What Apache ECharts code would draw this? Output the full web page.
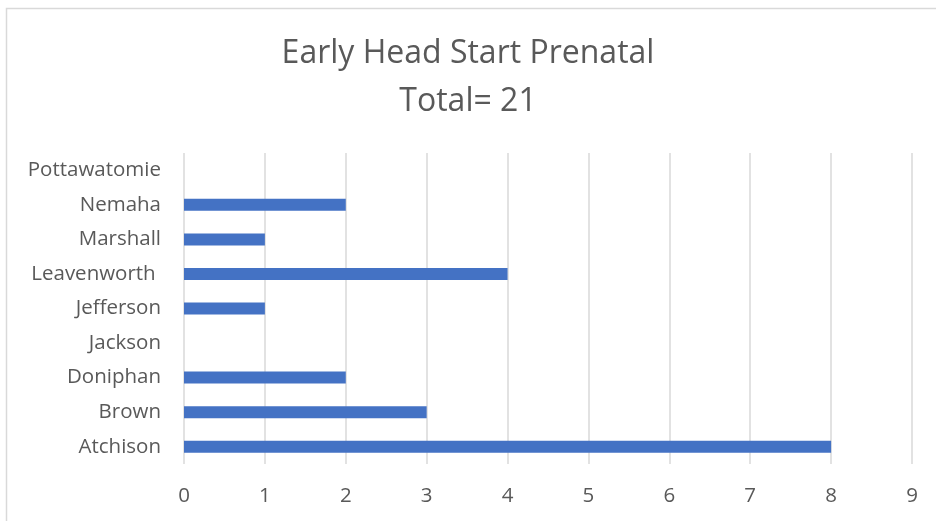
<!DOCTYPE html>
<html><head><meta charset="utf-8">
<script src="https://cdn.jsdelivr.net/npm/echarts@6/dist/echarts.min.js"></script>
<style>html,body{margin:0;padding:0;background:#fff}#c{width:936px;height:521px}</style>
</head><body><div id="c"></div>
<script>
const categories = ['Atchison','Brown','Doniphan','Jackson','Jefferson','Leavenworth ','Marshall','Nemaha','Pottawatomie'];
const values = [8,3,2,0,1,4,1,2,0];
const titleText = 'Early Head Start Prenatal\nTotal= 21';
const chart = echarts.init(document.getElementById('c'));
const font = '"Open Sans", sans-serif';
chart.setOption({
  animation:false,
  backgroundColor:'#fff',
  graphic:[{type:'rect',shape:{x:6.5,y:8.5,width:940,height:520},style:{fill:'none',stroke:'#d9d9d9',lineWidth:1.5}}],
  title:{text:titleText,left:'center',top:25,textStyle:{fontFamily:font,fontSize:32,fontWeight:'normal',color:'#595959',lineHeight:48}},
  grid:{left:184,right:24,top:153,bottom:57,containLabel:false},
  xAxis:{type:'value',min:0,max:9,interval:1,
    axisLine:{show:false},axisTick:{show:false},
    axisLabel:{fontFamily:font,fontSize:20.5,color:'#595959',margin:22},
    splitLine:{lineStyle:{color:'#d9d9d9',width:1.5}}},
  yAxis:{type:'category',data:categories,
    axisLine:{show:false},axisTick:{show:false},
    axisLabel:{fontFamily:font,fontSize:20.5,color:'#595959',margin:23}},
  series:[{type:'bar',data:values,barWidth:12,itemStyle:{color:'#4472c4'}}]
});
</script></body></html>
